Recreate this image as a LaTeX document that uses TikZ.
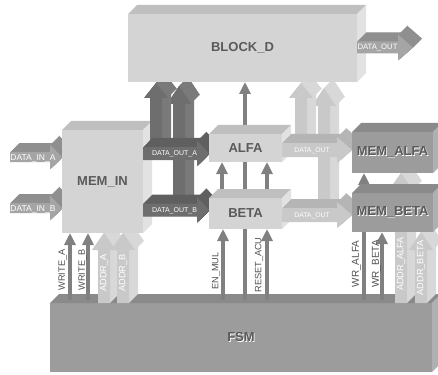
\documentclass[tikz,border=0pt]{standalone}
\usepackage{fontspec}
\setmainfont{Liberation Sans}
\usetikzlibrary{arrows.meta}
\definecolor{bxF}{HTML}{D4D4D4}\definecolor{bxT}{HTML}{BFBFBF}\definecolor{bxS}{HTML}{E2E2E2}
\definecolor{dbF}{HTML}{9C9C9C}\definecolor{dbT}{HTML}{8A8A8A}\definecolor{dbS}{HTML}{B0B0B0}
\definecolor{dkF}{HTML}{6E6E6E}\definecolor{dkE}{HTML}{5F5F5F}\definecolor{dkV}{HTML}{7A7A7A}
\definecolor{ltF}{HTML}{C9C9C9}\definecolor{ltE}{HTML}{B5B5B5}\definecolor{ltV}{HTML}{D8D8D8}
\definecolor{mdF}{HTML}{A5A5A5}\definecolor{mdE}{HTML}{8F8F8F}
\definecolor{thincol}{HTML}{808080}\definecolor{boxtext}{HTML}{5A5A5A}\definecolor{labtext}{HTML}{505050}
\newcommand{\harr}[8]{%
 \foreach \k in {9,8.5,...,0.5}{%
  \fill[#8,shift={(\k,-\k)}] (#1,{#3-#4}) -- ({#2-#6},{#3-#4}) -- ({#2-#6},{#3-#5}) -- (#2,#3) -- ({#2-#6},{#3+#5}) -- ({#2-#6},{#3+#4}) -- (#1,{#3+#4}) -- cycle;}%
 \fill[#7] (#1,{#3-#4}) -- ({#2-#6},{#3-#4}) -- ({#2-#6},{#3-#5}) -- (#2,#3) -- ({#2-#6},{#3+#5}) -- ({#2-#6},{#3+#4}) -- (#1,{#3+#4}) -- cycle;}
\newcommand{\varr}[8]{%
 \foreach \k in {9,8.5,...,0.5}{%
  \fill[#8,shift={(\k,-\k)}] ({#1-#5},#2) -- ({#1-#5},#3) -- ({#1-#6},#3) -- (#1,#4) -- ({#1+#6},#3) -- ({#1+#5},#3) -- ({#1+#5},#2) -- cycle;}%
 \fill[#7] ({#1-#5},#2) -- ({#1-#5},#3) -- ({#1-#6},#3) -- (#1,#4) -- ({#1+#6},#3) -- ({#1+#5},#3) -- ({#1+#5},#2) -- cycle;}
\newcommand{\boxd}[9]{%
 \node[fill=#6,minimum width=#4pt,minimum height=#5pt,inner sep=0pt,outer sep=0pt,boxlab] (#1) at (#2,#3) {#9};
 \fill[#7] (#1.north west) -- ++(9,-9) -- ([shift={(9,-9)}]#1.north east) -- (#1.north east) -- cycle;
 \fill[#8] (#1.north east) -- ++(9,-9) -- ([shift={(9,-9)}]#1.south east) -- (#1.south east) -- cycle;}
\newcommand{\shtext}[1]{\makebox[0pt][l]{\kern0.8pt\raisebox{-0.8pt}{\textcolor{white}{#1}}}#1}
\begin{document}
\begin{tikzpicture}[x=1pt,y=-1pt,
  boxlab/.style={font=\fontsize{13}{13}\selectfont\bfseries,text=boxtext},
  thinarr/.style={draw=thincol,line width=3.5pt,-{Triangle[width=11pt,length=12pt]}},
  thinline/.style={draw=thincol,line width=3.5pt},
  hlab/.style={text=white,inner sep=0pt},
  vlab/.style={text=labtext,inner sep=0pt,rotate=90,font=\fontsize{9.2}{9.2}\selectfont},
  alab/.style={text=white,inner sep=0pt,rotate=90,font=\fontsize{9.2}{9.2}\selectfont}]
\useasboundingbox (0,0) rectangle (438,374);
\fill[white] (0,0) rectangle (438,374);
% FSM
\boxd{fsm}{241}{337.5}{382}{69}{dbF}{dbT}{dbS}{\shtext{FSM}}
% thin connectors
\draw[thinarr] ([xshift=-171pt,yshift=3pt]fsm.north) -- (70,233) coordinate (wa);
\draw[thinarr] ([xshift=-153pt,yshift=3pt]fsm.north) -- (88,233) coordinate (wb);
\draw[thinarr] ([xshift=-18pt,yshift=3pt]fsm.north) -- (223,229) coordinate (em);
\draw[thinline] ([xshift=4pt,yshift=3pt]fsm.north) -- (245,229) coordinate (mid);
\draw[thinarr] ([xshift=26pt,yshift=3pt]fsm.north) -- (267,229) coordinate (ra);
\draw[thinarr] ([xshift=123pt,yshift=3pt]fsm.north) -- (364,173) coordinate (wra);
\draw[thinarr] ([xshift=141pt,yshift=3pt]fsm.north) -- (382,232) coordinate (wrb);
\draw[thinarr] (222,191) coordinate (ba1) -- (222,162);
\draw[thinline] (245,191) coordinate (ba2) -- (245,162);
\draw[thinarr] (267,191) coordinate (ba3) -- (267,162);
\draw[thinarr] (245,128) coordinate (ab) -- (245,82);
% bottom 3D arrows
\varr{104}{303}{250}{233}{6}{12}{ltF}{ltV}
\varr{123}{303}{250}{233}{6}{12}{ltF}{ltV}
\varr{401}{303}{190}{173}{6}{12}{ltF}{ltV}
\varr{421}{303}{250}{232}{6}{12}{ltF}{ltV}
% B-level vertical shafts
\varr{179}{204}{104}{86}{6}{12}{dkF}{dkV}
\varr{324}{208}{106}{88}{6}{12}{ltF}{ltV}
% data in
\harr{10}{62}{157}{5}{12.5}{12}{mdF}{mdE}
\harr{10}{62}{208}{5}{12.5}{12}{mdF}{mdE}
% MEM_IN
\boxd{memin}{102.5}{181.5}{81}{103}{bxF}{bxT}{bxS}{MEM\_IN}
% data out B, vertical A, data out A
\harr{143}{209}{210}{6.5}{13}{12}{dkF}{dkE}
\varr{156}{147}{98}{83}{6}{12}{dkF}{dkV}
\harr{143}{209}{153.5}{6.5}{13}{12}{dkF}{dkE}
% ALFA, BETA
\boxd{beta}{245.5}{213.5}{73}{31}{bxF}{bxT}{bxS}{BETA}
\boxd{alfa}{245.5}{148}{73}{28}{bxF}{bxT}{bxS}{ALFA}
% light data outs
\harr{282}{352}{215}{7}{13}{15}{ltF}{ltE}
\varr{301}{143}{98}{83}{6}{12}{ltF}{ltV}
\harr{282}{352}{150}{7}{13}{15}{ltF}{ltE}
% MEM_ALFA, MEM_BETA
\boxd{membeta}{392.5}{212.5}{81}{39}{dbF}{dbT}{dbS}{\shtext{MEM\_BETA}}
\boxd{memalfa}{392.5}{152.5}{81}{41}{dbF}{dbT}{dbS}{\shtext{MEM\_ALFA}}
% BLOCK_D
\boxd{blockd}{242.5}{48}{229}{68}{bxF}{bxT}{bxS}{BLOCK\_D}
\harr{357}{413}{47.5}{6}{13}{15}{mdF}{mdE}
% labels
\node[hlab,font=\fontsize{8.5}{8.5}\selectfont] (lina) at (33,158) {DATA\_IN\_A};
\node[hlab,font=\fontsize{8.5}{8.5}\selectfont] (linb) at (33,209) {DATA\_IN\_B};
\node[hlab,font=\fontsize{7}{7}\selectfont] (louta) at (174.5,154) {DATA\_OUT\_A};
\node[hlab,font=\fontsize{7}{7}\selectfont] (loutb) at (174.5,211) {DATA\_OUT\_B};
\node[hlab,font=\fontsize{6.8}{6.8}\selectfont] (loa) at (312,151) {DATA\_OUT};
\node[hlab,font=\fontsize{6.8}{6.8}\selectfont] (lob) at (312,216) {DATA\_OUT};
\node[hlab,font=\fontsize{7.7}{7.7}\selectfont] (lod) at (377.5,48) {DATA\_OUT};
\node[vlab] (lwa) at (62.5,270) {WRITE\_A};
\node[vlab] (lwb) at (82.5,270) {WRITE\_B};
\node[alab] (laa) at (104,273) {ADDR\_A};
\node[alab] (lab) at (123,273) {ADDR\_B};
\node[vlab] (lem) at (216,271) {EN\_MUL};
\node[vlab] (lra) at (259,265) {RESET\_ACU};
\node[vlab,font=\fontsize{10}{10}\selectfont] (lwra) at (356.5,264) {WR\_ALFA};
\node[vlab,font=\fontsize{10}{10}\selectfont] (lwrb) at (376.5,264) {WR\_BETA};
\node[alab] (laal) at (401,264) {ADDR\_ALFA};
\node[alab] (labe) at (421,268) {ADDR\_BETA};
\end{tikzpicture}
\end{document}
